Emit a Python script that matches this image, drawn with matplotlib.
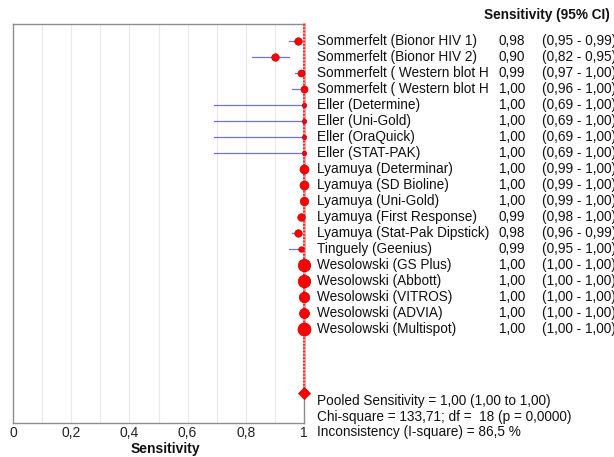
import matplotlib.pyplot as plt
import matplotlib.transforms as mtransforms

studies = [
    "Sommerfelt (Bionor HIV 1)",
    "Sommerfelt (Bionor HIV 2)",
    "Sommerfelt ( Western blot H",
    "Sommerfelt ( Western blot H",
    "Eller (Determine)",
    "Eller (Uni-Gold)",
    "Eller (OraQuick)",
    "Eller (STAT-PAK)",
    "Lyamuya (Determinar)",
    "Lyamuya (SD Bioline)",
    "Lyamuya (Uni-Gold)",
    "Lyamuya (First Response)",
    "Lyamuya (Stat-Pak Dipstick)",
    "Tinguely (Geenius)",
    "Wesolowski (GS Plus)",
    "Wesolowski (Abbott)",
    "Wesolowski (VITROS)",
    "Wesolowski (ADVIA)",
    "Wesolowski (Multispot)",
]
sens = [0.98, 0.90, 0.99, 1.00, 1.00, 1.00, 1.00, 1.00, 1.00, 1.00,
        1.00, 0.99, 0.98, 0.99, 1.00, 1.00, 1.00, 1.00, 1.00]
ci_low = [0.95, 0.82, 0.97, 0.96, 0.69, 0.69, 0.69, 0.69, 0.99, 0.99,
          0.99, 0.98, 0.96, 0.95, 1.00, 1.00, 1.00, 1.00, 1.00]
ci_high = [0.99, 0.95, 1.00, 1.00, 1.00, 1.00, 1.00, 1.00, 1.00, 1.00,
           1.00, 1.00, 0.99, 1.00, 1.00, 1.00, 1.00, 1.00, 1.00]
# relative study weights (marker diameter in px)
weights = [7.5, 7.5, 7, 7, 4.5, 4.5, 4.5, 4.5, 9, 9, 8.5, 7.5, 7.5, 5.5, 12.5, 12.5, 10.5, 10, 13]

pooled = 1.00
pooled_low = 1.00
pooled_high = 1.00
chi_sq = 133.71
df = 18
p_val = 0.0000
i_sq = 86.5

xticks = [0, 0.2, 0.4, 0.6, 0.8, 1.0]
xtick_labels = ["0", "0,2", "0,4", "0,6", "0,8", "1"]


def fmt(v, d=2):
    return f"{v:.{d}f}".replace(".", ",")


plt.rcParams["font.family"] = ["Liberation Sans", "DejaVu Sans"]
W, H = 614, 457
fig = plt.figure(figsize=(W / 100, H / 100), dpi=100)
ax = fig.add_axes([13 / W, 1 - 423 / H, 291 / W, 399 / H])

n = len(studies)
rows = list(range(n))
pooled_row = 22

ax.set_xlim(0, 1)
ax.set_ylim(23.875, -1.06)

for g in [0.1 * k for k in range(1, 10)]:
    ax.axvline(g, color="#e9e9e9", lw=0.8, zorder=0)

# pooled estimate line (drawn over the right frame)
ax.plot([pooled, pooled], [-1.06, pooled_row], color="#f2a0a0", lw=2.2,
        zorder=3, clip_on=False)
ax.plot([pooled, pooled], [-1.06, pooled_row], color="#e02020", lw=1.2,
        ls=(0, (1, 1)), zorder=3.1, clip_on=False)

for i in rows:
    ax.plot([ci_low[i], ci_high[i]], [i, i], color="#5555ee", lw=0.9,
            alpha=0.85, zorder=2, clip_on=False)
    ax.plot(sens[i], i, "o", ms=weights[i] * 0.72, color="#ff0000",
            mec="#c00000", mew=0.5, zorder=4, clip_on=False)

ax.plot(pooled, pooled_row, "D", ms=6, color="#ff0000", mec="#c00000",
        mew=0.5, zorder=4, clip_on=False)

for side in ["left", "top", "bottom", "right"]:
    ax.spines[side].set_color("#8c8c8c")
    ax.spines[side].set_linewidth(1.0)

ax.set_xticks(xticks)
ax.set_xticklabels(xtick_labels, fontsize=10, color="#222222")
ax.tick_params(axis="x", length=0, pad=2)
ax.set_yticks([])

fig.text(165 / W, 1 - 449 / H, "Sensitivity", ha="center", va="center",
         fontsize=10, fontweight="bold", color="#111111")

trans = mtransforms.blended_transform_factory(fig.transFigure, ax.transData)
for i in rows:
    ax.text(317 / W, i, studies[i], transform=trans, ha="left", va="center",
            fontsize=9.8, color="#111111")
    ax.text(525 / W, i, fmt(sens[i]), transform=trans, ha="right", va="center",
            fontsize=9.8, color="#111111")
    ax.text(542 / W, i, f"({fmt(ci_low[i])} - {fmt(ci_high[i])})", transform=trans,
            ha="left", va="center", fontsize=9.8, color="#111111")

fig.text(484 / W, 1 - 15 / H, "Sensitivity (95% CI)", ha="left", va="center",
         fontsize=9.8, fontweight="bold", color="#111111")

summary = [
    f"Pooled Sensitivity = {fmt(pooled)} ({fmt(pooled_low)} to {fmt(pooled_high)})",
    f"Chi-square = {fmt(chi_sq)}; df =  {df} (p = {fmt(p_val, 4)})",
    f"Inconsistency (I-square) = {fmt(i_sq, 1)} %",
]
for k, line in enumerate(summary):
    fig.text(317 / W, 1 - (401 + 15.5 * k) / H, line, ha="left", va="center",
             fontsize=9.8, color="#111111")

fig.savefig("out.png", dpi=100)
